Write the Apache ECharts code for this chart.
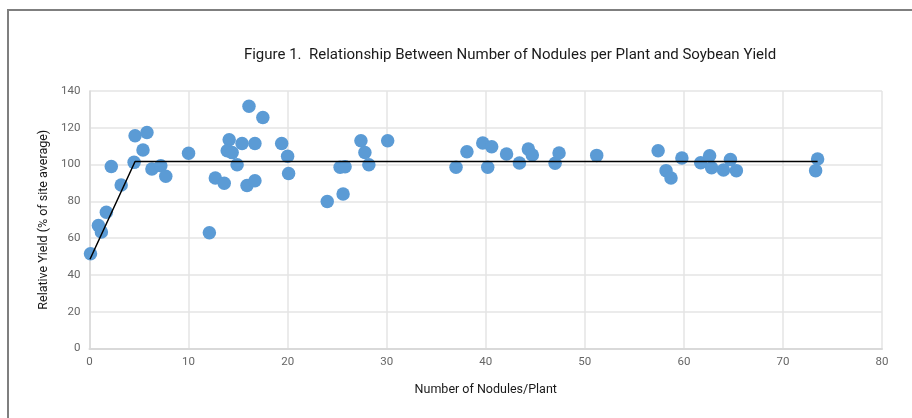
<!DOCTYPE html>
<html>
<head>
<meta charset="utf-8">
<script src="https://cdn.jsdelivr.net/npm/echarts@6/dist/echarts.min.js"></script>
<style>
  html, body { margin: 0; padding: 0; background: #fff; }
  .chart { width: 912px; height: 418px; }
</style>
</head>
<body>
<div class="scatter"><div class="chart"></div></div>
<script>
// nodules per plant (x) and relative yield (y)
var nodules = [0.1, 0.9, 1.2, 1.7, 2.2, 3.2, 4.5, 4.6, 5.4, 5.8, 6.3, 7.2, 7.7, 10.0,
  12.1, 12.7, 13.6, 14.1, 13.9, 14.4, 14.9, 15.4, 16.1, 15.9, 16.7, 16.7, 17.5,
  19.4, 20.0, 20.1, 24.0, 25.6, 25.3, 25.8, 27.4, 27.8, 28.2, 30.1, 37.0, 38.1,
  39.7, 40.2, 40.6, 42.1, 43.4, 44.3, 44.7, 47.0, 47.4, 51.2, 57.4, 58.2, 58.7,
  59.8, 61.7, 62.6, 62.8, 64.0, 64.7, 65.3, 73.5, 73.3];
var yieldPct = [51.5, 66.9, 63.3, 74.1, 99.0, 88.9, 101.2, 115.7, 107.9, 117.4, 97.6, 99.4, 93.6, 106.1,
  62.9, 92.7, 89.8, 113.5, 107.5, 106.5, 99.9, 111.5, 131.7, 88.6, 91.2, 111.5, 125.6,
  111.5, 104.5, 95.2, 79.9, 84.0, 98.5, 98.8, 112.9, 106.6, 99.9, 112.9, 98.5, 107.0,
  111.7, 98.5, 109.7, 105.7, 100.9, 108.4, 105.2, 100.7, 106.3, 105.0, 107.5, 96.7, 92.7,
  103.6, 101.0, 104.8, 98.3, 97.1, 102.7, 96.7, 103.0, 96.7];
// fitted plateau line
var fitX = [0.05, 4.6, 73.5];
var fitY = [48.5, 101.7, 101.7];
// axis ticks
var xTicks = [0, 80, 10];
var yTicks = [0, 140, 20];

(function () {
  var myChart = echarts.init(document.querySelector('.scatter .chart'))
  var font = 'Roboto, sans-serif'

  var points = nodules.map(function (x, i) { return [x, yieldPct[i]] })
  var fit = fitX.map(function (x, i) { return [x, fitY[i]] })

  var option = {
    animation: false,
    title: {
      text: 'Figure 1.  Relationship Between Number of Nodules per Plant and Soybean Yield',
      left: 505,
      top: 43,
      textAlign: 'center',
      textStyle: { fontFamily: font, fontSize: 15, fontWeight: 'normal', color: '#1a1a1a' }
    },
    // outer frame
    graphic: [{
      type: 'rect',
      shape: { x: 8, y: 10, width: 1000, height: 1000 },
      style: { fill: 'none', stroke: '#7f7f7f', lineWidth: 2 }
    }],
    grid: { left: 89.5, right: 30, top: 91, bottom: 69.5 },
    xAxis: {
      type: 'value',
      min: xTicks[0],
      max: xTicks[1],
      interval: xTicks[2],
      name: 'Number of Nodules/Plant',
      nameLocation: 'middle',
      nameGap: 35,
      nameTextStyle: { fontFamily: font, fontSize: 12.5, color: '#1a1a1a' },
      axisLine: { lineStyle: { color: '#d9d9d9', width: 2 } },
      axisTick: { show: false },
      axisLabel: { fontFamily: font, fontSize: 11.5, color: '#666', margin: 8 },
      splitLine: { lineStyle: { color: '#e4e4e4', width: 1.5 } }
    },
    yAxis: {
      type: 'value',
      min: yTicks[0],
      max: yTicks[1],
      interval: yTicks[2],
      name: 'Relative Yield (% of site average)',
      nameLocation: 'middle',
      nameGap: 31,
      nameTextStyle: { fontFamily: font, fontSize: 12.5, color: '#1a1a1a' },
      axisLine: { show: true, lineStyle: { color: '#d9d9d9', width: 1.5 } },
      axisTick: { show: false },
      axisLabel: { fontFamily: font, fontSize: 11.5, color: '#666', margin: 9 },
      splitLine: { lineStyle: { color: '#e4e4e4', width: 1.5 } }
    },
    series: [
      {
        name: 'yield',
        type: 'scatter',
        symbolSize: 13.5,
        data: points,
        itemStyle: { color: '#5b9bd5', opacity: 1 }
      },
      {
        name: 'fit',
        type: 'line',
        data: fit,
        symbol: 'none',
        lineStyle: { color: '#000', width: 1.5 },
        z: 3
      }
    ]
  };

  myChart.setOption(option)
  window.addEventListener('resize', function () {
    myChart.resize()
  })
})()
</script>
</body>
</html>
